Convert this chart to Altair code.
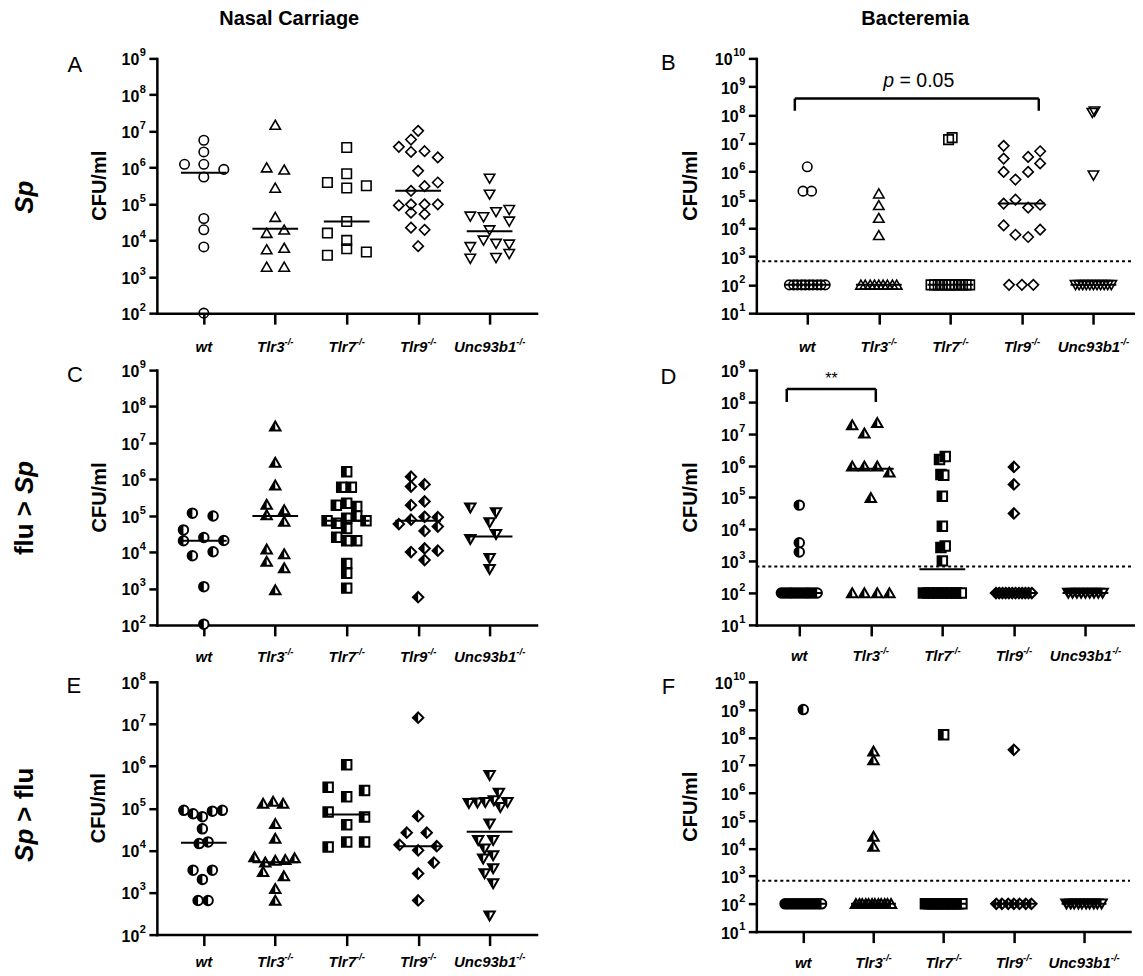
import altair as alt
import pandas as pd

FONT = "Liberation Sans"

genotypes = ["wt", "Tlr3", "Tlr7", "Tlr9", "Unc93b1"]
genotype_sup = ["", "-/-", "-/-", "-/-", "-/-"]

# ---------------- data: log10(CFU/ml) and horizontal scatter (in group-spacing units)
# Panel A : Sp, nasal carriage
A_log = {
    "wt": [6.09, 6.75, 6.43, 6.09, 5.74, 5.95, 4.60, 4.29, 3.82, 2.00],
    "Tlr3": [7.17, 6.00, 5.94, 5.44, 4.64, 4.20, 4.29, 3.75, 3.79, 3.27, 3.27],
    "Tlr7": [6.55, 5.59, 5.83, 5.44, 5.50, 4.52, 4.20, 4.00, 3.77, 3.59, 3.68],
    "Tlr9": [7.01, 6.77, 6.57, 6.43, 6.45, 6.28, 5.91, 5.59, 5.49, 5.36, 4.96, 4.99,
             4.99, 4.99, 4.76, 4.72, 4.35, 4.29, 3.84],
    "Unc93b1": [5.70, 5.26, 4.66, 4.64, 4.78, 4.84, 4.52, 4.28, 4.00, 3.82, 3.91, 3.89,
                3.50, 3.52, 3.63],
}
A_off = {
    "wt": [-0.27, 0, 0, 0, 0, 0.28, 0, 0, 0, 0],
    "Tlr3": [0, -0.12, 0.125, 0, 0, -0.12, 0.125, -0.12, 0.125, -0.12, 0.125],
    "Tlr7": [0, -0.27, 0, 0, 0.275, 0, -0.27, 0, 0, -0.27, 0.275],
    "Tlr9": [0, -0.1, -0.27, -0.1, 0.09, 0.275, 0, 0.275, 0.09, -0.1, -0.27, -0.1,
             0.09, 0.275, -0.1, 0.09, -0.1, 0.09, 0],
    "Unc93b1": [0, 0, -0.27, -0.085, 0.09, 0.275, 0.275, 0, -0.085, -0.27, 0.09, 0.275,
                -0.27, 0.09, 0.275],
}
A_median = [5.86, 4.32, 4.52, 5.36, 4.25]

# Panel B : Sp, bacteremia
B_log = {
    "wt": [6.17, 5.31, 5.31, 2, 2, 2, 2, 2, 2, 2, 2, 2, 2],
    "Tlr3": [5.22, 4.81, 4.36, 3.75, 2, 2, 2, 2, 2, 2, 2, 2, 2],
    "Tlr7": [7.13, 7.20, 2, 2, 2, 2, 2, 2, 2, 2, 2, 2, 2, 2],
    "Tlr9": [6.91, 6.46, 5.99, 5.72, 6.52, 5.99, 6.72, 6.29, 5.01, 4.87, 4.73, 4.83,
             4.10, 3.77, 3.69, 3.95, 2, 2, 2],
    "Unc93b1": [8.08, 8.13, 5.87, 2, 2, 2, 2, 2, 2, 2, 2, 2, 2, 2],
}
B_off = {
    "wt": [0, -0.06, 0.06, -0.25, -0.19, -0.14, -0.08, -0.03, 0.03, 0.08, 0.14, 0.19, 0.25],
    "Tlr3": [0, 0, 0, 0, -0.25, -0.19, -0.12, -0.06, 0, 0.06, 0.12, 0.19, 0.25],
    "Tlr7": [-0.025, 0.025, -0.27, -0.22, -0.17, -0.12, -0.07, -0.02, 0.02, 0.07, 0.12,
             0.17, 0.22, 0.27],
    "Tlr9": [-0.255, -0.255, -0.255, -0.09, 0.087, 0.087, 0.255, 0.255, -0.09, -0.255,
             0.087, 0.255, -0.255, -0.09, 0.087, 0.255, -0.18, 0, 0.16],
    "Unc93b1": [-0.015, 0.015, 0, -0.25, -0.2, -0.15, -0.1, -0.05, 0, 0.05, 0.1, 0.15,
                0.2, 0.25],
}
B_median = [2, 2, 2, 4.87, 2]

# Panel C : flu > Sp, nasal carriage
C_log = {
    "wt": [5.07, 4.99, 4.61, 4.31, 4.40, 4.32, 3.90, 4.01, 3.05, 2.02],
    "Tlr3": [7.46, 6.46, 5.84, 5.31, 5.02, 5.16, 4.84, 4.08, 3.95, 3.74, 3.56, 2.96],
    "Tlr7": [6.21, 5.78, 5.78, 5.29, 5.34, 5.25, 4.99, 4.86, 4.79, 4.93, 4.86, 4.65,
             4.41, 4.31, 4.31, 3.69, 3.42, 3.01],
    "Tlr9": [6.07, 5.86, 5.80, 5.29, 5.39, 4.77, 4.89, 4.97, 4.96, 4.70, 4.58, 4.00,
             4.10, 4.04, 3.78, 2.76],
    "Unc93b1": [5.22, 5.09, 4.81, 4.35, 4.49, 3.83, 3.53],
}
C_off = {
    "wt": [-0.16, 0.13, -0.285, -0.285, 0, 0.28, -0.16, 0.13, 0, 0],
    "Tlr3": [0, 0, 0, -0.12, -0.12, 0.125, 0.125, -0.12, 0.125, -0.12, 0.125, 0],
    "Tlr7": [0, -0.07, 0.065, -0.145, 0, 0.14, 0.14, -0.275, -0.14, 0, 0.27, 0, -0.14,
             0, 0.14, 0, 0, 0],
    "Tlr9": [-0.1, 0.09, -0.1, -0.1, 0.09, -0.27, -0.1, 0.09, 0.275, 0.275, 0.09, -0.1,
             0.09, 0.275, 0.09, 0],
    "Unc93b1": [-0.27, 0.09, 0, -0.27, 0.09, 0, 0],
}
C_median = [4.31, 4.99, 4.86, 4.86, 4.43]

# Panel D : flu > Sp, bacteremia
D_log = {
    "wt": [4.76, 3.58, 3.29, 2, 2, 2, 2, 2, 2, 2, 2, 2, 2, 2, 2, 2, 2],
    "Tlr3": [7.28, 7.02, 7.35, 5.98, 5.98, 5.98, 5.79, 4.99, 2, 2, 2, 2],
    "Tlr7": [6.19, 6.29, 5.72, 5.70, 5.04, 4.10, 3.43, 3.48, 3.01,
             2, 2, 2, 2, 2, 2, 2, 2, 2],
    "Tlr9": [5.96, 5.41, 4.50, 2, 2, 2, 2, 2, 2, 2, 2, 2, 2, 2, 2],
    "Unc93b1": [2, 2, 2, 2, 2, 2, 2, 2, 2],
}
D_off = {
    "wt": [0, 0, 0, -0.25, -0.21, -0.17, -0.13, -0.1, -0.06, -0.02, 0.02, 0.06, 0.1,
           0.13, 0.17, 0.21, 0.25],
    "Tlr3": [-0.26, -0.09, 0.09, -0.26, -0.09, 0.09, 0.26, 0, -0.26, -0.09, 0.09, 0.26],
    "Tlr7": [-0.04, 0.04, -0.02, 0.02, 0, 0, -0.02, 0.04, 0,
             -0.265, -0.2, -0.13, -0.066, 0, 0.066, 0.13, 0.2, 0.265],
    "Tlr9": [0, 0, 0, -0.25, -0.205, -0.16, -0.115, -0.07, -0.023, 0.023, 0.07, 0.115,
             0.16, 0.205, 0.25],
    "Unc93b1": [-0.24, -0.18, -0.12, -0.06, 0, 0.06, 0.12, 0.18, 0.24],
}
D_median = [2, 5.9, 2.75, 2, 2]

# Panel E : Sp > flu, nasal carriage
E_log = {
    "wt": [4.95, 4.87, 4.80, 4.93, 4.95, 4.51, 4.16, 4.20, 3.53, 3.53, 3.31, 2.81, 2.81],
    "Tlr3": [5.11, 5.16, 5.11, 4.63, 4.28, 3.84, 3.72, 3.76, 3.78, 3.82, 3.49, 3.39,
             3.09, 2.81],
    "Tlr7": [6.03, 5.50, 5.42, 5.27, 4.91, 4.79, 4.61, 4.08, 4.20, 4.20],
    "Tlr9": [7.15, 4.81, 4.42, 4.42, 4.13, 4.00, 4.10, 3.71, 3.45, 2.81],
    "Unc93b1": [5.78, 5.12, 5.13, 5.14, 5.18, 5.36, 5.02, 5.14, 4.63, 4.24, 4.24, 4.04,
                3.88, 3.80, 3.57, 3.45, 3.21, 2.45],
}
E_off = {
    "wt": [-0.28, -0.15, -0.02, 0.12, 0.26, -0.02, -0.065, 0.06, -0.15, 0.12, -0.02,
           -0.08, 0.06],
    "Tlr3": [-0.17, -0.03, 0.11, 0, 0, -0.29, -0.14, 0, 0.14, 0.27, -0.17, 0.12, 0, 0],
    "Tlr7": [0, -0.26, 0.25, 0, -0.26, 0.25, 0, -0.26, 0, 0.25],
    "Tlr9": [0, 0, -0.16, 0.12, -0.26, 0, 0.26, 0.22, 0, 0],
    "Unc93b1": [0, -0.29, -0.17, -0.06, 0.06, 0.13, 0.15, 0.25, 0, -0.16, 0.05, -0.07,
                0.05, -0.09, 0.05, -0.07, 0.05, 0],
}
E_median = [4.18, 3.72, 4.85, 4.10, 4.44]

# Panel F : Sp > flu, bacteremia
F_log = {
    "wt": [9.0, 2, 2, 2, 2, 2, 2, 2, 2, 2, 2, 2, 2, 2, 2],
    "Tlr3": [7.50, 7.18, 4.43, 4.07, 2, 2, 2, 2, 2, 2, 2, 2, 2, 2, 2, 2],
    "Tlr7": [8.09, 2, 2, 2, 2, 2, 2, 2, 2, 2, 2, 2, 2],
    "Tlr9": [7.55, 2, 2, 2, 2, 2, 2, 2],
    "Unc93b1": [2, 2, 2, 2, 2, 2, 2, 2, 2, 2],
}
F_off = {
    "wt": [0, -0.26, -0.22, -0.18, -0.14, -0.1, -0.06, -0.02, 0.02, 0.06, 0.1, 0.14,
           0.18, 0.22, 0.26],
    "Tlr3": [0, 0, 0, 0, -0.25, -0.2, -0.16, -0.11, -0.07, -0.02, 0.02, 0.07, 0.11,
             0.16, 0.2, 0.25],
    "Tlr7": [0, -0.26, -0.21, -0.16, -0.12, -0.07, -0.02, 0.02, 0.07, 0.12, 0.16,
             0.21, 0.26],
    "Tlr9": [0, -0.25, -0.17, -0.08, 0, 0.08, 0.17, 0.25],
    "Unc93b1": [-0.25, -0.19, -0.14, -0.08, -0.03, 0.03, 0.08, 0.14, 0.19, 0.25],
}
F_median = [2, 2, 2, 2, 2]

LOD_LOG = 2.83  # dotted detection-limit line (log10 CFU/ml)

# significance brackets: [x left, x right, log top, log bottom]
B_bracket = [0.826, 4.236, 8.58, 8.15]
D_bracket = [0.825, 2.07, 8.41, 8.00]

# ---------------- marker shapes (unit box -1..1), order follows genotypes
FULL = ["circle", "M0,-1 L1.1,0.9 L-1.1,0.9 Z", "square",
        "M0,-1.1 L1.1,0 L0,1.1 L-1.1,0 Z", "M-1.1,-0.9 L1.1,-0.9 L0,1 Z"]
HALF = ["M0,-1 C-0.552,-1 -1,-0.552 -1,0 C-1,0.552 -0.552,1 0,1 Z",
        "M0,-1 L0,0.9 L-1.1,0.9 Z", "M-1,-1 L0,-1 L0,1 L-1,1 Z",
        "M0,-1.1 L0,1.1 L-1.1,0 Z", "M-1.1,-0.9 L0,-0.9 L0,1 Z"]

CW = {'w': 0.778, 't': 0.333, 'T': 0.611, 'l': 0.278, 'r': 0.389, '3': 0.556,
      '7': 0.556, '9': 0.556, 'U': 0.722, 'n': 0.611, 'c': 0.556, 'b': 0.611,
      '1': 0.556, '-': 0.333, '/': 0.278}


def twidth(s, fs):
    return sum(CW.get(ch, 0.556) for ch in s) * fs


LAB_FS = 15
SUP_FS = 9.5
TICK_FS = 16
TSUP_FS = 11


def txt(s, x, y, **kw):
    return alt.Chart(pd.DataFrame({"t": [s]})).mark_text(
        font=FONT, color="black", **kw).encode(
        x=alt.value(x), y=alt.value(y), text="t:N")


def build(p):
    w, h = p["width"], p["height"]
    xs = alt.Scale(domain=p["xdom"], nice=False, zero=False)
    ys = alt.Scale(type="log", domain=[10 ** p["ylo"], 10 ** p["yhi"]], nice=False)
    xax = alt.Axis(values=[1, 2, 3, 4, 5], labels=False, title=None, tickSize=11,
                   grid=False)
    yax = alt.Axis(values=[10 ** k for k in range(p["ylo"], p["yhi"] + 1)],
                   labels=False, title=None, tickSize=8, grid=False)

    def X(f):
        return alt.X(f, scale=xs, axis=xax)

    def Y(f):
        return alt.Y(f, scale=ys, axis=yax)

    rows = []
    for gi, g in enumerate(genotypes):
        for v, o in zip(p["log"][g], p["off"][g]):
            rows.append({"geno": g, "xpos": gi + 1 + o, "cfu": 10 ** v})
    pts = alt.Chart(pd.DataFrame(rows))
    layers = []
    if p["lod"]:
        layers.append(alt.Chart(pd.DataFrame({"lod": [10 ** LOD_LOG]})).mark_rule(
            color="black", strokeWidth=2, strokeDash=[3, 3]).encode(
            y=Y("lod:Q"), x=alt.value(0), x2=alt.value(w)))
    if p["half"]:
        layers.append(pts.mark_point(filled=True, fill="white", stroke="black",
                                     strokeWidth=2, size=90, opacity=1).encode(
            x=X("xpos:Q"), y=Y("cfu:Q"),
            shape=alt.Shape("geno:N", scale=alt.Scale(domain=genotypes, range=FULL),
                            legend=None)))
        layers.append(pts.mark_point(filled=True, fill="black", strokeWidth=0,
                                     size=90, opacity=1).encode(
            x=X("xpos:Q"), y=Y("cfu:Q"),
            shape=alt.Shape("geno:N", scale=alt.Scale(domain=genotypes, range=HALF),
                            legend=None)))
    else:
        layers.append(pts.mark_point(filled=False, stroke="black", strokeWidth=1.6,
                                     size=90, opacity=1).encode(
            x=X("xpos:Q"), y=Y("cfu:Q"),
            shape=alt.Shape("geno:N", scale=alt.Scale(domain=genotypes, range=FULL),
                            legend=None)))
    med = pd.DataFrame({"idx": [1, 2, 3, 4, 5], "cfu": [10 ** m for m in p["median"]]})
    layers.append(alt.Chart(med).transform_calculate(
        x1="datum.idx - 0.32", x2="datum.idx + 0.32").mark_rule(
        color="black", strokeWidth=2).encode(
        x=X("x1:Q"), x2="x2:Q", y=Y("cfu:Q")))

    if p.get("bracket"):
        b = p["bracket"]
        bd = alt.Chart(pd.DataFrame({"xl": [b[0]], "xr": [b[1]], "yt": [10 ** b[2]],
                                     "yb": [10 ** b[3]]}))
        layers.append(bd.mark_rule(color="black", strokeWidth=2.5).encode(
            x=X("xl:Q"), x2="xr:Q", y=Y("yt:Q")))
        layers.append(bd.mark_rule(color="black", strokeWidth=2.5).encode(
            x=X("xl:Q"), y=Y("yt:Q"), y2="yb:Q"))
        layers.append(bd.mark_rule(color="black", strokeWidth=2.5).encode(
            x=X("xr:Q"), y=Y("yt:Q"), y2="yb:Q"))
    for (s, xv, yv, kw) in p.get("notes", []):
        layers.append(alt.Chart(pd.DataFrame({"t": [s], "xv": [xv], "yv": [10 ** yv]}))
                      .mark_text(font=FONT, color="black", baseline="middle", **kw)
                      .encode(x=X("xv:Q"), y=Y("yv:Q"), text="t:N"))

    # y tick labels: "10" with a superscript exponent
    tk = []
    for k in range(p["ylo"], p["yhi"] + 1):
        ws = twidth(str(k), TSUP_FS)
        tk.append({"cfu": 10 ** k, "base": "10", "exp": str(k), "bx": -11.5 - ws})
    tkc = alt.Chart(pd.DataFrame(tk))
    layers.append(tkc.mark_text(font=FONT, fontSize=TICK_FS, fontWeight="bold",
                                align="right", baseline="middle", color="black",
                                dy=2).encode(
        x=alt.X("bx:Q", scale=None), y=Y("cfu:Q"), text="base:N"))
    layers.append(tkc.mark_text(font=FONT, fontSize=TSUP_FS, fontWeight="bold",
                                align="right", baseline="middle", color="black",
                                dy=-5).encode(
        x=alt.value(-11), y=Y("cfu:Q"), text="exp:N"))

    # category labels with superscript
    step = w / (p["xdom"][1] - p["xdom"][0])
    lab = []
    for gi, (g, s) in enumerate(zip(genotypes, genotype_sup)):
        wm = twidth(g, LAB_FS)
        ws = twidth(s, SUP_FS)
        lab.append({"name": g, "sup": s, "xm": gi + 1 + (wm - ws) / 2 / step})
    labc = alt.Chart(pd.DataFrame(lab))
    layers.append(labc.mark_text(font=FONT, fontSize=LAB_FS, fontWeight="bold",
                                 fontStyle="italic", align="right", baseline="middle",
                                 color="black").encode(
        x=X("xm:Q"), y=alt.value(h + p["labdy"]), text="name:N"))
    layers.append(labc.mark_text(font=FONT, fontSize=SUP_FS, fontWeight="bold",
                                 fontStyle="italic", align="left", baseline="middle",
                                 color="black", dy=-5).encode(
        x=X("xm:Q"), y=alt.value(h + p["labdy"]), text="sup:N"))

    # panel letter, axis title
    layers.append(txt(p["letter"], p["letter_xy"][0], p["letter_xy"][1], fontSize=22,
                      align="center", baseline="middle"))
    layers.append(txt("CFU/ml", p["cfu_x"], h / 2, fontSize=20, fontWeight="bold",
                      angle=270, align="center", baseline="middle"))
    for (s, x, y, kw) in p.get("texts", []):
        layers.append(txt(s, x, y, **kw))
    return alt.layer(*layers).resolve_scale(shape="independent").properties(
        width=w, height=h)


ROWT = dict(fontSize=26, fontWeight="bold", angle=270, baseline="middle")
COLT = dict(fontSize=20, fontWeight="bold", align="center", baseline="middle")

panels = [
    dict(log=A_log, off=A_off, median=A_median, ylo=2, yhi=9, width=380, height=255,
         xdom=[0.343, 5.657], half=False, lod=False, letter="A", letter_xy=(-82, 7),
         cfu_x=-57, labdy=34,
         texts=[("Sp", -132, 139, dict(ROWT, align="center", fontStyle="italic")),
                ("Nasal Carriage", 132.5, -39, COLT)]),
    dict(log=B_log, off=B_off, median=B_median, ylo=1, yhi=10, width=378, height=255,
         xdom=[0.288, 5.567], half=False, lod=True, letter="B", letter_xy=(-88, 5),
         cfu_x=-65, labdy=34, bracket=B_bracket,
         notes=[("p", 2.215, 9.2, dict(fontSize=19.5, fontStyle="italic", align="right")),
                ("= 0.05", 2.29, 9.2, dict(fontSize=19.5, align="left"))],
         texts=[("Bacteremia", 159, -39, COLT)]),
    dict(log=C_log, off=C_off, median=C_median, ylo=2, yhi=9, width=380, height=255,
         xdom=[0.343, 5.657], half=True, lod=False, letter="C", letter_xy=(-82, 5),
         cfu_x=-57, labdy=32,
         texts=[("flu >", -132, 131, dict(ROWT, align="right")),
                ("Sp", -132, 124, dict(ROWT, align="left", fontStyle="italic"))]),
    dict(log=D_log, off=D_off, median=D_median, ylo=1, yhi=9, width=378, height=255,
         xdom=[0.4, 5.679], half=True, lod=True, letter="D", letter_xy=(-88, 7),
         cfu_x=-65, labdy=31, bracket=D_bracket,
         notes=[("**", 1.45, 8.72, dict(fontSize=16, align="center"))]),
    dict(log=E_log, off=E_off, median=E_median, ylo=2, yhi=8, width=380, height=253,
         xdom=[0.343, 5.657], half=True, lod=False, letter="E", letter_xy=(-83, 4),
         cfu_x=-58, labdy=27,
         texts=[("Sp", -132, 147, dict(ROWT, align="right", fontStyle="italic")),
                ("> flu", -132, 140, dict(ROWT, align="left"))]),
    dict(log=F_log, off=F_off, median=F_median, ylo=1, yhi=10, width=374, height=250,
         xdom=[0.331, 5.655], half=True, lod=True, letter="F", letter_xy=(-88, 5),
         cfu_x=-65, labdy=31),
]

charts = [build(p) for p in panels]
# invisible anchor fixing the top-left extent of the figure
anchor = alt.Chart(pd.DataFrame({"a": [0]})).mark_point(size=1, opacity=0).encode(
    x=alt.value(-148.5), y=alt.value(-49.5))
charts[0] = alt.layer(charts[0], anchor)

chart = alt.concat(*charts, columns=2, spacing={"row": 57, "column": 220},
                   bounds="flush").properties(padding=0).configure_view(
    stroke=None).configure_axis(
    domainColor="black", domainWidth=2.5, tickColor="black", tickWidth=2.5,
    grid=False, domainCap="square")

chart.save("out.html", embed_options={"renderer": "svg", "actions": False})
